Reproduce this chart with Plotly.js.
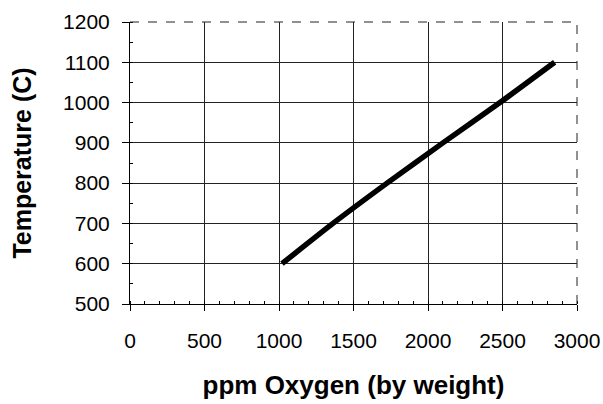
<!DOCTYPE html>
<html>
<head>
<meta charset="utf-8">
<script src="https://cdn.plot.ly/plotly-3.0.1.min.js"></script>
<style>
  html, body { margin: 0; padding: 0; background: #fff; }
  #chart { width: 603px; height: 404px; }
</style>
</head>
<body>
<div id="chart"></div>
<script>
// Oxygen content (ppm by weight) against temperature
const oxygenPpm = [1020, 1362, 1725, 2100, 2483, 2850];
const temperatureC = [600, 700, 800, 900, 1000, 1100];

const xTicks = [0, 500, 1000, 1500, 2000, 2500, 3000];
const yTicks = [500, 600, 700, 800, 900, 1000, 1100, 1200];

const trace = {
  x: oxygenPpm,
  y: temperatureC,
  type: 'scatter',
  mode: 'lines',
  line: { color: '#000', width: 5.5, shape: 'spline', smoothing: 0.6 },
  hoverinfo: 'skip'
};

const axisFont = { family: 'Liberation Sans, Arial, sans-serif', size: 21, color: '#000' };
const xTitleFont = { family: 'Liberation Sans, Arial, sans-serif', size: 26, color: '#000', weight: 'bold' };
const yTitleFont = { family: 'Liberation Sans, Arial, sans-serif', size: 25, color: '#000', weight: 'bold' };

const layout = {
  width: 603,
  height: 404,
  margin: { l: 130, r: 26, t: 22, b: 100 },
  paper_bgcolor: '#fff',
  plot_bgcolor: '#fff',
  showlegend: false,
  xaxis: {
    range: [0, 3000],
    tickvals: xTicks,
    ticktext: xTicks.map(String),
    tickfont: axisFont,
    ticks: 'outside',
    ticklen: 6,
    tickcolor: '#000',
    ticklabelstandoff: 12,
    showline: true,
    linecolor: '#000',
    linewidth: 1,
    showgrid: true,
    gridcolor: '#222',
    gridwidth: 1,
    zeroline: false,
    minor: { dtick: 100, ticks: 'inside', ticklen: 3, tickcolor: '#000', showgrid: false },
    title: { text: 'ppm Oxygen (by weight)', font: xTitleFont, standoff: 24 }
  },
  yaxis: {
    range: [500, 1200],
    tickvals: yTicks,
    ticktext: yTicks.map(String),
    tickfont: axisFont,
    ticks: 'outside',
    ticklen: 7,
    tickcolor: '#000',
    ticklabelstandoff: 8,
    showline: true,
    linecolor: '#000',
    linewidth: 1,
    showgrid: true,
    gridcolor: '#222',
    gridwidth: 1,
    zeroline: false,
    minor: { dtick: 50, ticks: 'inside', ticklen: 3, tickcolor: '#000', showgrid: false },
    title: { text: 'Temperature (C)', font: yTitleFont, standoff: 24 }
  },
  shapes: [
    { type: 'line', xref: 'paper', yref: 'paper', x0: 0, x1: 1, y0: 1, y1: 1,
      line: { color: '#222', width: 1, dash: 'dash' } },
    { type: 'line', xref: 'paper', yref: 'paper', x0: 1, x1: 1, y0: 0, y1: 1,
      line: { color: '#222', width: 1, dash: 'dash' } }
  ]
};

Plotly.newPlot('chart', [trace], layout, { displayModeBar: false, staticPlot: true });
</script>
</body>
</html>
